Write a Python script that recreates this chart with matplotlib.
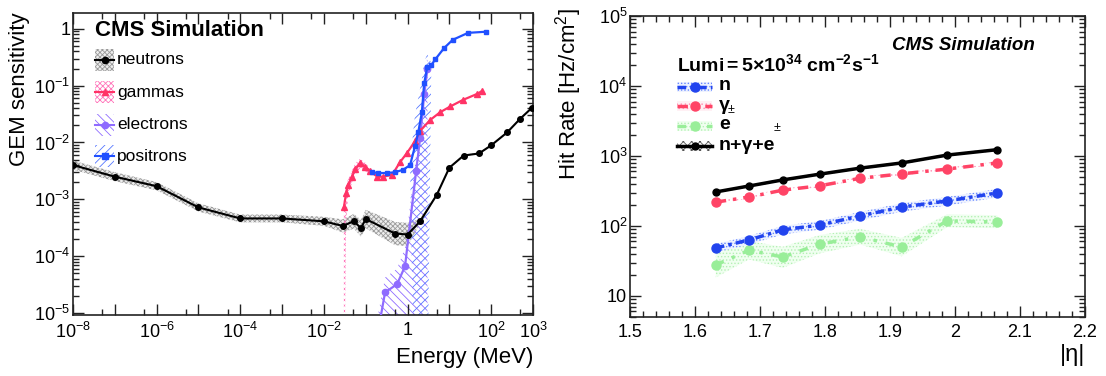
import numpy as np
import matplotlib
matplotlib.use('Agg')
import matplotlib.pyplot as plt
from matplotlib.patches import Rectangle
from matplotlib.lines import Line2D
from matplotlib.ticker import FixedLocator, FuncFormatter, LogLocator, MultipleLocator, NullFormatter

plt.rcParams['font.family'] = ['Liberation Sans', 'DejaVu Sans']
plt.rcParams['mathtext.fontset'] = 'custom'
plt.rcParams['mathtext.rm'] = 'Liberation Sans'
plt.rcParams['mathtext.it'] = 'Liberation Sans:italic'
plt.rcParams['mathtext.bf'] = 'Liberation Sans:bold'
plt.rcParams['hatch.linewidth'] = 0.6

# ---------------- data: left panel (GEM sensitivity) ----------------
neutron_E = [1e-8, 1e-7, 1e-6, 1e-5, 1e-4, 1e-3, 1e-2, 0.028, 0.052, 0.077, 0.1, 0.5, 1.0,
             2.0, 5.0, 10, 22, 51, 100, 240, 490, 950]
neutron_S = [4.0e-3, 2.5e-3, 1.7e-3, 7.2e-4, 4.6e-4, 4.6e-4, 4.1e-4, 3.4e-4, 4.1e-4, 3.1e-4,
             4.5e-4, 2.5e-4, 2.4e-4, 4.1e-4, 1.2e-3, 3.6e-3, 5.9e-3, 6.4e-3, 8.9e-3, 0.015,
             0.026, 0.041]
neutron_err = [1.2, 1.2, 1.18, 1.18, 1.17, 1.17, 1.2, 1.3, 1.35, 1.4, 1.45, 1.6, 1.6,
               1.1, 1.04, 1.03, 1.03, 1.03, 1.03, 1.03, 1.03, 1.03]

gamma_E = [0.030, 0.034, 0.038, 0.047, 0.056, 0.074, 0.098, 0.13, 0.19, 0.26, 0.43, 0.66,
           0.98, 1.5, 2.0, 3.5, 6.0, 10.5, 21, 47, 61]
gamma_S = [7.2e-4, 1.3e-3, 1.8e-3, 2.5e-3, 3.4e-3, 4.3e-3, 3.7e-3, 3.1e-3, 2.5e-3, 2.5e-3,
           2.7e-3, 4.5e-3, 6.6e-3, 0.0105, 0.016, 0.025, 0.034, 0.043, 0.056, 0.072, 0.081]
gamma_lo = [1e-7, 4e-4, 1.2e-3, 1.9e-3, 2.7e-3, 3.5e-3, 3.1e-3, 2.8e-3, 2.4e-3, 2.45e-3,
            2.65e-3, 4.4e-3, 6.5e-3, 0.0103, 0.0157, 0.0246, 0.0335, 0.0424, 0.0552, 0.071, 0.080]
gamma_hi = [9.5e-4, 1.7e-3, 2.3e-3, 3.2e-3, 4.3e-3, 5.2e-3, 4.4e-3, 3.4e-3, 2.6e-3, 2.55e-3,
            2.75e-3, 4.6e-3, 6.7e-3, 0.0107, 0.0163, 0.0254, 0.0345, 0.0436, 0.0568, 0.073, 0.082]

electron_E = [0.2, 0.29, 0.56, 0.87, 1.6, 2.0, 2.5, 3.0]
electron_S = [5e-6, 2.3e-5, 3.2e-5, 6.6e-5, 3.1e-3, 0.012, 0.07, 0.2]
electron_lo = [1e-7, 1e-7, 1e-7, 1e-7, 1e-7, 1e-7, 1e-7, 1e-7]
electron_hi = [1.0e-5, 4.2e-5, 6.0e-5, 1.4e-4, 6.0e-3, 0.03, 0.15, 0.33]

positron_E = [0.14, 0.2, 0.33, 0.5, 0.78, 1.15, 1.5, 1.8, 2.2, 2.5, 2.95, 3.7, 4.6, 7.5,
              12, 28, 76]
positron_S = [3.0e-3, 2.9e-3, 2.9e-3, 3.0e-3, 3.3e-3, 4.0e-3, 8.5e-3, 0.015, 0.034, 0.11,
              0.21, 0.23, 0.29, 0.46, 0.64, 0.85, 0.89]
positron_lo = [2.9e-3, 2.8e-3, 2.8e-3, 2.9e-3, 3.2e-3, 3.8e-3, 1e-7, 1e-7, 1e-7, 1e-7,
               1e-7, 0.22, 0.285, 0.455, 0.635, 0.845, 0.885]
positron_hi = [3.1e-3, 3.0e-3, 3.0e-3, 3.1e-3, 3.4e-3, 4.2e-3, 0.03, 0.06, 0.13, 0.26,
               0.36, 0.25, 0.3, 0.465, 0.645, 0.855, 0.895]

# ---------------- data: right panel (hit rate vs |eta|) ----------------
eta = [1.632, 1.683, 1.735, 1.792, 1.854, 1.918, 1.988, 2.065]
rate_total = [306, 372, 455, 550, 670, 795, 1030, 1230]
rate_gamma = [219, 259, 325, 375, 480, 555, 650, 795]
rate_neutron = [48.5, 63, 88, 103, 139, 186, 228, 296]
rate_electron = [27.7, 45, 36, 55, 70, 50, 118, 114]
err_total = 0.04
err_gamma = 0.05
err_neutron = 0.14
err_electron = [0.45, 0.35, 0.4, 0.35, 0.3, 0.35, 0.25, 0.25]

left_xticklabels = {-8: '$10^{-8}$', -6: '$10^{-6}$', -4: '$10^{-4}$', -2: '$10^{-2}$',
                    0: '1', 2: '$10^{2}$', 3: '$10^{3}$'}

# ---------------- figure ----------------
W, H = 1106, 376
fig = plt.figure(figsize=(W / 100, H / 100), dpi=100)


def fx(x):
    return x / W


def fy(y):
    return 1 - y / H


axL = fig.add_axes([fx(73), fy(315), fx(533) - fx(73), fy(13) - fy(315)])
axR = fig.add_axes([fx(630), fy(317), fx(1085) - fx(630), fy(16) - fy(317)])

C_N = 'black'
C_G = '#ff3366'
C_E = '#8f6cff'
C_P = '#2050ff'
C_GBAND = '#ff77bb'
C_NBAND = '#9a9a9a'

# ---- left panel ----
axL.set_xscale('log')
axL.set_yscale('log')

nS = np.array(neutron_S)
nErr = np.array(neutron_err)
axL.fill_between(neutron_E, nS / nErr, nS * nErr, facecolor='#eeeeee', edgecolor=C_NBAND,
                 hatch='xxxxxxx', linewidth=0, zorder=1)
axL.fill_between(gamma_E, gamma_lo, gamma_hi, facecolor='none', edgecolor=C_GBAND,
                 hatch='xxxxxx', linewidth=0, zorder=1)
axL.fill_between(electron_E, electron_lo, electron_hi, facecolor='none', edgecolor=C_E,
                 hatch='\\\\\\\\', linewidth=0, zorder=1)
axL.fill_between(positron_E, positron_lo, positron_hi, facecolor='none', edgecolor='#5577ff',
                 hatch='////', linewidth=0, zorder=1)

axL.plot(neutron_E, neutron_S, color=C_N, lw=1.5, marker='o', ms=4, zorder=5)
axL.plot(gamma_E, gamma_S, color=C_G, lw=1.6, marker='^', ms=4, zorder=4)
axL.plot(electron_E, electron_S, color=C_E, lw=1.6, marker='o', ms=4.5, zorder=3)
axL.plot(positron_E, positron_S, color=C_P, lw=1.6, marker='s', ms=3.5, zorder=4)

axL.set_xlim(1e-8, 1e3)
axL.set_ylim(9.2e-6, 1.9)
axL.xaxis.set_major_locator(FixedLocator(10.0 ** np.arange(-8, 4)))
axL.xaxis.set_minor_locator(FixedLocator(5 * 10.0 ** np.arange(-8, 3)))
axL.xaxis.set_major_formatter(FuncFormatter(
    lambda v, p: left_xticklabels.get(int(round(np.log10(v))), '')))
axL.xaxis.set_minor_formatter(NullFormatter())
axL.yaxis.set_major_locator(FixedLocator(10.0 ** np.arange(-5, 1)))
axL.yaxis.set_minor_locator(LogLocator(base=10, subs=np.arange(2, 10), numticks=20))
axL.yaxis.set_major_formatter(FuncFormatter(
    lambda v, p: '1' if abs(v - 1) < 1e-9 else '$10^{%d}$' % int(round(np.log10(v)))))
axL.yaxis.set_minor_formatter(NullFormatter())

# ---- right panel ----
axR.set_yscale('log')
tot = np.array(rate_total)
gam = np.array(rate_gamma)
neu = np.array(rate_neutron)
ele = np.array(rate_electron)
eerr = np.array(err_electron)

axR.fill_between(eta, ele * (1 - eerr * 0.75), ele * (1 + eerr), facecolor='#f0fff0',
                 edgecolor='#b5f0b5', hatch='.....', linewidth=0, zorder=1)
axR.fill_between(eta, neu * (1 - err_neutron), neu * (1 + err_neutron), facecolor='#eef2ff',
                 edgecolor='#6688ff', hatch='.....', linewidth=0, zorder=1)
axR.fill_between(eta, gam * (1 - err_gamma), gam * (1 + err_gamma), facecolor='none',
                 edgecolor='#ff99bb', hatch='....', linewidth=0, zorder=1)
axR.fill_between(eta, tot * (1 - err_total), tot * (1 + err_total), facecolor='none',
                 edgecolor='#555555', hatch='xxxx', linewidth=0, zorder=1)

LS_E = (0, (2.5, 2.5, 1, 2.5))
LS_N = (0, (2.5, 1.2, 1, 1.2))
LS_G = (0, (3, 2, 1, 2))
axR.plot(eta, ele, color='#99ee99', lw=2.5, ls=LS_E, marker='o', ms=6.5, zorder=3)
axR.plot(eta, neu, color='#2244ee', lw=2.5, ls=LS_N, marker='o', ms=6.5, zorder=3)
axR.plot(eta, gam, color='#ff4466', lw=2.5, ls=LS_G, marker='o', ms=6.5, zorder=4)
axR.plot(eta, tot, color='black', lw=2.5, marker='o', ms=5, zorder=5)

axR.set_xlim(1.5, 2.2)
axR.set_ylim(5, 1e5)
axR.xaxis.set_major_locator(MultipleLocator(0.1))
axR.xaxis.set_minor_locator(MultipleLocator(0.02))
axR.xaxis.set_major_formatter(FuncFormatter(lambda v, p: '2' if abs(v - 2) < 1e-9 else '%.1f' % v))
axR.yaxis.set_major_locator(FixedLocator(10.0 ** np.arange(1, 6)))
axR.yaxis.set_minor_locator(LogLocator(base=10, subs=np.arange(2, 10), numticks=20))
axR.yaxis.set_major_formatter(FuncFormatter(
    lambda v, p: '10' if abs(v - 10) < 1e-9 else '$10^{%d}$' % int(round(np.log10(v)))))
axR.yaxis.set_minor_formatter(NullFormatter())

for ax in (axL, axR):
    ax.tick_params(which='both', direction='in', top=True, right=True, labelsize=13,
                   width=1.0, color='#222222')
    ax.tick_params(which='major', length=8)
    ax.tick_params(which='minor', length=4)
    for s in ax.spines.values():
        s.set_linewidth(1.2)
        s.set_color('#222222')
    ax.tick_params(axis='x', which='major', pad=5)
    ax.tick_params(axis='y', which='major', pad=2)

# ---- axis titles ----
fig.text(fx(20), fy(12), 'GEM sensitivity', rotation=90, va='top', ha='center', fontsize=16)
fig.text(fx(533), fy(357), 'Energy (MeV)', ha='right', va='center', fontsize=16)
fig.text(fx(569), fy(8), 'Hit Rate [Hz/cm$^{2}$]', rotation=90, va='top', ha='center', fontsize=16)
fig.text(fx(1085), fy(355), '|η|', ha='right', va='center', fontsize=17)

# ---- left legend ----
fig.text(fx(95), fy(31), 'CMS Simulation', fontsize=16, fontweight='bold', va='center')
leg_left = [
    ('neutrons', 60, C_N, C_NBAND, '#eeeeee', 'xxxxxxx', 'o'),
    ('gammas', 92, C_G, C_GBAND, 'none', 'xxxxxx', '^'),
    ('electrons', 125, C_E, C_E, 'none', '\\\\\\\\', 'o'),
    ('positrons', 156, C_P, '#5577ff', 'none', '////', 's'),
]
for label, yc, col, bcol, fcol, hat, mk in leg_left:
    fig.add_artist(Rectangle((fx(95), fy(yc + 11)), fx(114) - fx(95), fy(yc - 11) - fy(yc + 11),
                             facecolor=fcol, edgecolor=bcol, hatch=hat, linewidth=0,
                             transform=fig.transFigure))
    fig.add_artist(Line2D([fx(95), fx(114)], [fy(yc), fy(yc)], color=col, lw=1.5,
                          transform=fig.transFigure))
    fig.add_artist(Line2D([fx(104.5)], [fy(yc)], color=col, marker=mk, ms=4.5,
                          transform=fig.transFigure))
    fig.text(fx(117), fy(yc), label, fontsize=12.5, va='center')

# ---- right legend ----
fig.text(fx(963), fy(45), 'CMS Simulation', fontsize=13.5, fontweight='bold', style='italic',
         ha='center', va='center')
fig.text(fx(677), fy(64), r'$\mathbf{Lumi{=}5{\times}10^{34}\ cm^{-2}s^{-1}}$', fontsize=14,
         va='center')
leg_right = [
    (87, '#2244ee', '#6688ff', '#eef2ff', '.....', LS_N, 6.5),
    (106, '#ff4466', '#ff99bb', '#fff0f4', '....', LS_G, 6.5),
    (126, '#99ee99', '#b5f0b5', '#f0fff0', '.....', LS_E, 6.5),
    (146, 'black', '#555555', 'none', 'xxxx', '-', 5),
]
for yc, col, bcol, fcol, hat, ls, ms in leg_right:
    fig.add_artist(Rectangle((fx(677), fy(yc + 5)), fx(712) - fx(677), fy(yc - 5) - fy(yc + 5),
                             facecolor=fcol, edgecolor=bcol, hatch=hat, linewidth=0,
                             transform=fig.transFigure))
    fig.add_artist(Line2D([fx(677), fx(712)], [fy(yc), fy(yc)], color=col, lw=2.5, ls=ls,
                          transform=fig.transFigure))
    fig.add_artist(Line2D([fx(694.5)], [fy(yc)], color=col, marker='o', ms=ms,
                          transform=fig.transFigure))
fig.text(fx(719), fy(86), 'n', fontsize=14, fontweight='bold', va='center')
fig.text(fx(719), fy(105), 'γ', fontsize=14, fontweight='bold', va='center')
fig.text(fx(728), fy(110), '±', fontsize=9, va='center')
fig.text(fx(719), fy(125), 'e', fontsize=14, fontweight='bold', va='center')
fig.text(fx(774), fy(128), '±', fontsize=9, va='center')
fig.text(fx(719), fy(145), 'n+γ+e', fontsize=14, fontweight='bold', va='center')

fig.savefig('out.png', dpi=100, facecolor='white')
